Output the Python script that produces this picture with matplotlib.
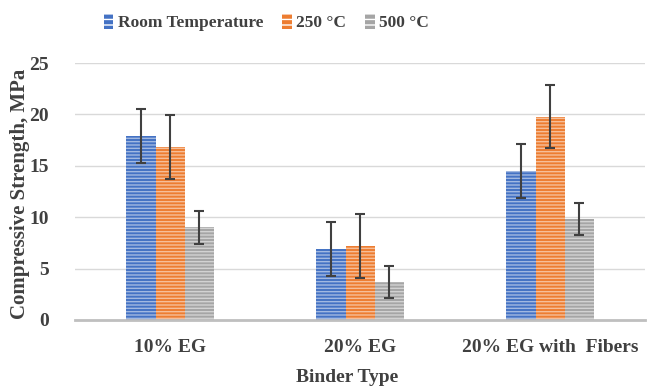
import numpy as np
import matplotlib.pyplot as plt
from matplotlib.patches import Patch

plt.rcParams['font.family'] = ['Liberation Serif', 'DejaVu Serif']
plt.rcParams['font.weight'] = 'bold'
plt.rcParams['hatch.linewidth'] = 1.0

categories = ['10% EG', '20% EG', '20% EG with  Fibers']
series = ['Room Temperature', '250 °C', '500 °C']
room = [17.9, 6.9, 14.5]
t250 = [16.8, 7.2, 19.8]
t500 = [9.0, 3.7, 9.8]
room_err = [2.65, 2.65, 2.65]
t250_err = [3.1, 3.1, 3.1]
t500_err = [1.57, 1.57, 1.57]
colors = ['#4472C4', '#ED7D31', '#A5A5A5']
text_col = '#404040'

fig = plt.figure(figsize=(6.47, 3.92), dpi=100)
ax = fig.add_axes([0.116, 0.184, 0.881, 0.655])

x = np.arange(len(categories))
w = 0.153
data = [(room, room_err), (t250, t250_err), (t500, t500_err)]
for i, (vals, errs) in enumerate(data):
    pos = x + (i - 1) * w
    ax.bar(pos, vals, w, color=colors[i], linewidth=0, zorder=2)
    ax.bar(pos, vals, w, facecolor='none', edgecolor='white', alpha=0.5,
           hatch='-----', linewidth=0, zorder=3)
    ax.errorbar(pos, vals, yerr=errs, fmt='none', ecolor='#404040',
                elinewidth=1.5, capsize=3.5, capthick=1.5, zorder=4)

ax.set_xlim(-0.5, 2.5)
ax.set_ylim(0, 25)
ax.set_yticks([0, 5, 10, 15, 20, 25])
ax.set_xticks(x)
ax.set_xticklabels(categories)
ax.grid(axis='y', color='#D9D9D9', linewidth=1, zorder=0)
ax.set_axisbelow(True)
for s in ['top', 'right', 'left']:
    ax.spines[s].set_visible(False)
ax.spines['bottom'].set_color('#BFBFBF')
ax.spines['bottom'].set_linewidth(2)
ax.tick_params(axis='both', length=0, labelsize=14, labelcolor=text_col)
ax.tick_params(axis='x', pad=14)
ax.tick_params(axis='y', pad=19)

fig.text(347 / 647, 0.038, 'Binder Type', fontsize=14, fontweight='bold',
         color=text_col, ha='center', va='center')
fig.text(20 / 647, 0.505, 'Compressive Strength, MPa', fontsize=15,
         fontweight='bold', color=text_col, rotation=90, ha='center', va='center')

handles = [Patch(facecolor=c, edgecolor='white', hatch='---', linewidth=0) for c in colors]
fig.legend(handles, series, loc='center', bbox_to_anchor=(0.412, 0.942), ncol=3,
           frameon=False, prop={'size': 12.5, 'weight': 'bold'}, handlelength=0.55,
           handleheight=0.9, handletextpad=0.25, columnspacing=1.1, labelcolor=text_col)

fig.savefig('out.png', dpi=100)
